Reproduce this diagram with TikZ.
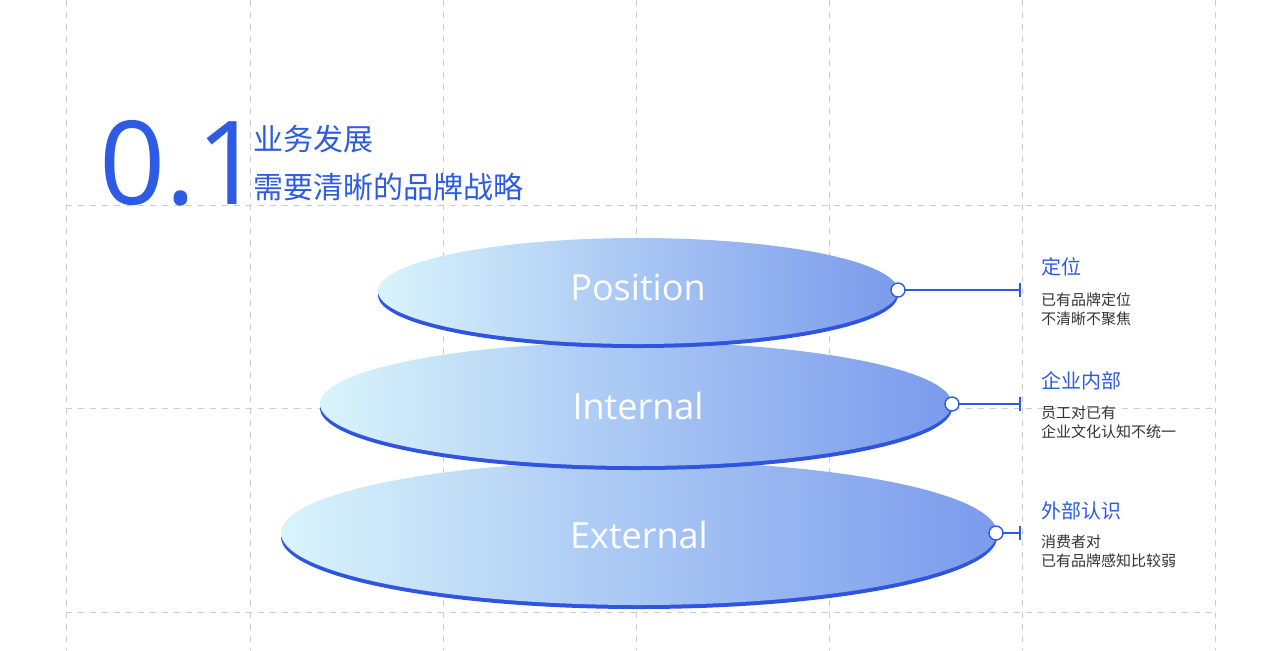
\documentclass[tikz,border=0pt]{standalone}
\usepackage{fontspec}
\setmainfont{Open Sans}
\newfontfamily\cjk{Noto Sans CJK SC}
\definecolor{bl}{HTML}{2D5BE3}
\definecolor{lc}{HTML}{D9F4FB}
\definecolor{mc}{HTML}{6C8FEA}
\definecolor{rim}{HTML}{2F55E0}
\begin{document}
\begin{tikzpicture}[x=0.5pt,y=-0.5pt,
  grid/.style={draw=gray!40,dashed,line width=0.4pt},
  disc/.style={left color=lc,right color=mc!90!white,middle color=mc!45!lc},
  lab/.style={white,font=\fontsize{18}{18}\selectfont},
  head/.style={anchor=west,text=bl,font=\cjk\fontsize{10}{10}\selectfont},
  sub/.style={anchor=north west,align=left,text=black!80,font=\cjk\fontsize{7.5}{9.3}\selectfont},
  dot/.style={circle,draw=bl,fill=white,line width=0.7pt,inner sep=0,minimum size=7pt}]
\useasboundingbox (0,0) rectangle (1280,650);
\foreach \x in {66,250,443,636,829,1022,1215} \draw[grid] (\x,0)--(\x,650);
\foreach \y in {205,408,612} \draw[grid] (66,\y)--(1215,\y);
\node[anchor=west,text=bl,font=\fontsize{58}{58}\selectfont] (num) at (92,163) {0.1};
\node[anchor=north west,text=bl,align=left,font=\cjk\fontsize{15}{24}\selectfont] (tt) at (246,118) {业务发展\\需要清晰的品牌战略};
% discs bottom to top
\fill[rim] (639,537) ellipse (358 and 72);
\shade[disc] (639,533) ellipse (358 and 72);
\node[lab] (e) at (639,535) {External};
\fill[rim] (636,408) ellipse (316 and 62);
\shade[disc] (636,404) ellipse (316 and 62);
\node[lab] (i) at (638,406) {Internal};
\fill[rim] (638,295) ellipse (260 and 53);
\shade[disc] (638,291) ellipse (260 and 53);
\node[lab] (p) at (638,287) {Position};
% markers
\foreach \n/\x/\y in {a/898/290,b/952/404,c/996/533}{
  \coordinate (t\n) at (1020,\y);
  \draw[bl,line width=0.6pt] (\x,\y)--(t\n);
  \draw[bl,line width=0.9pt] (1020,\y-7)--(1020,\y+7);
  \node[dot] (d\n) at (\x,\y) {};
}
\node[head] (h1) at (1034,267) {定位};
\node[sub] (s1) at (1034,286) {已有品牌定位\\不清晰不聚焦};
\node[head] (h2) at (1034,381) {企业内部};
\node[sub] (s2) at (1034,399) {员工对已有\\企业文化认知不统一};
\node[head] (h3) at (1034,511) {外部认识};
\node[sub] (s3) at (1034,528) {消费者对\\已有品牌感知比较弱};
\end{tikzpicture}
\end{document}
